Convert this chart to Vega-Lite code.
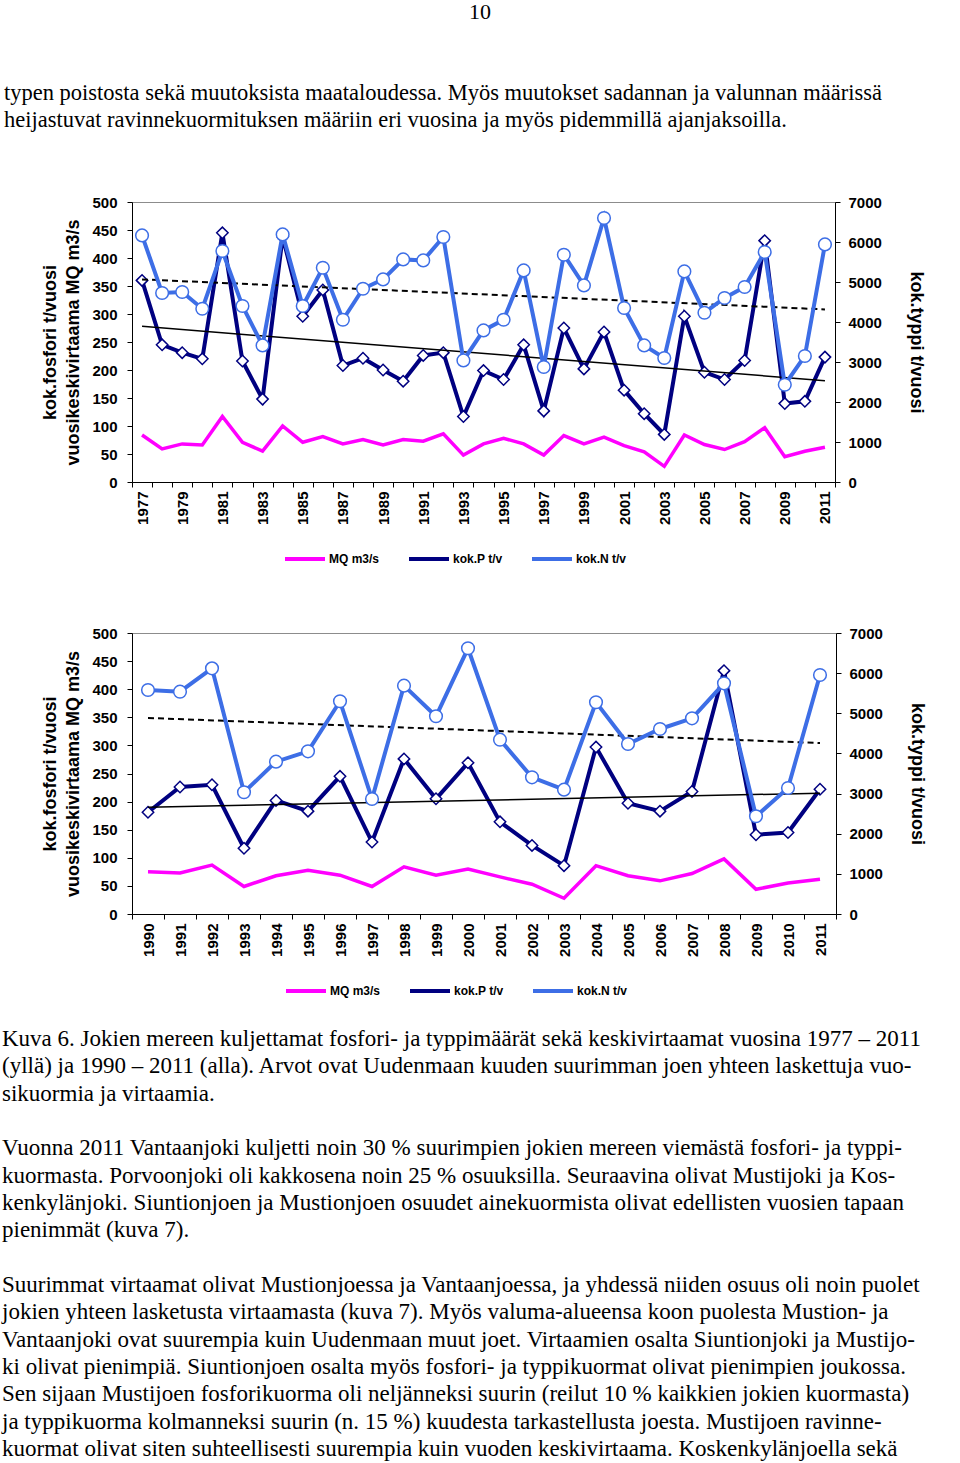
{
  "$schema": "https://vega.github.io/schema/vega-lite/v6.json",
  "padding": {"left": 2, "top": 1, "right": 0, "bottom": 0},
  "background": "white",
  "datasets": {
    "a": [
      {"year": 1977, "MQ": 84, "P": 360, "N": 6165},
      {"year": 1978, "MQ": 59, "P": 245, "N": 4725},
      {"year": 1979, "MQ": 68, "P": 231, "N": 4750},
      {"year": 1980, "MQ": 66, "P": 220, "N": 4332},
      {"year": 1981, "MQ": 117, "P": 445, "N": 5775},
      {"year": 1982, "MQ": 71, "P": 216, "N": 4400},
      {"year": 1983, "MQ": 55, "P": 148, "N": 3415},
      {"year": 1984, "MQ": 100, "P": 438, "N": 6190},
      {"year": 1985, "MQ": 71, "P": 296, "N": 4400},
      {"year": 1986, "MQ": 81, "P": 343, "N": 5357},
      {"year": 1987, "MQ": 68, "P": 208, "N": 4057},
      {"year": 1988, "MQ": 76, "P": 221, "N": 4832},
      {"year": 1989, "MQ": 66, "P": 200, "N": 5065},
      {"year": 1990, "MQ": 76, "P": 180, "N": 5565},
      {"year": 1991, "MQ": 73, "P": 226, "N": 5540},
      {"year": 1992, "MQ": 86, "P": 231, "N": 6125},
      {"year": 1993, "MQ": 48, "P": 117, "N": 3040},
      {"year": 1994, "MQ": 68, "P": 199, "N": 3790},
      {"year": 1995, "MQ": 78, "P": 183, "N": 4057},
      {"year": 1996, "MQ": 68, "P": 245, "N": 5290},
      {"year": 1997, "MQ": 48, "P": 127, "N": 2875},
      {"year": 1998, "MQ": 83, "P": 275, "N": 5682},
      {"year": 1999, "MQ": 68, "P": 202, "N": 4915},
      {"year": 2000, "MQ": 80, "P": 268, "N": 6600},
      {"year": 2001, "MQ": 65, "P": 164, "N": 4350},
      {"year": 2002, "MQ": 54, "P": 122, "N": 3415},
      {"year": 2003, "MQ": 28, "P": 85, "N": 3100},
      {"year": 2004, "MQ": 84, "P": 296, "N": 5265},
      {"year": 2005, "MQ": 67, "P": 196, "N": 4232},
      {"year": 2006, "MQ": 58, "P": 183, "N": 4600},
      {"year": 2007, "MQ": 72, "P": 217, "N": 4875},
      {"year": 2008, "MQ": 97, "P": 431, "N": 5750},
      {"year": 2009, "MQ": 45, "P": 140, "N": 2432},
      {"year": 2010, "MQ": 55, "P": 144, "N": 3150},
      {"year": 2011, "MQ": 62, "P": 223, "N": 5940}
    ],
    "b": [
      {"year": 1990, "MQ": 75, "P": 181, "N": 5580},
      {"year": 1991, "MQ": 73, "P": 226, "N": 5538},
      {"year": 1992, "MQ": 87, "P": 230, "N": 6120},
      {"year": 1993, "MQ": 49, "P": 117, "N": 3032},
      {"year": 1994, "MQ": 68, "P": 202, "N": 3795},
      {"year": 1995, "MQ": 78, "P": 183, "N": 4053},
      {"year": 1996, "MQ": 69, "P": 245, "N": 5299},
      {"year": 1997, "MQ": 49, "P": 128, "N": 2865},
      {"year": 1998, "MQ": 84, "P": 276, "N": 5688},
      {"year": 1999, "MQ": 69, "P": 205, "N": 4925},
      {"year": 2000, "MQ": 80, "P": 269, "N": 6619},
      {"year": 2001, "MQ": 66, "P": 164, "N": 4342},
      {"year": 2002, "MQ": 53, "P": 122, "N": 3405},
      {"year": 2003, "MQ": 28, "P": 86, "N": 3097},
      {"year": 2004, "MQ": 86, "P": 297, "N": 5274},
      {"year": 2005, "MQ": 68, "P": 197, "N": 4235},
      {"year": 2006, "MQ": 59, "P": 183, "N": 4609},
      {"year": 2007, "MQ": 72, "P": 218, "N": 4875},
      {"year": 2008, "MQ": 98, "P": 433, "N": 5747},
      {"year": 2009, "MQ": 44, "P": 141, "N": 2434},
      {"year": 2010, "MQ": 55, "P": 145, "N": 3139},
      {"year": 2011, "MQ": 62, "P": 222, "N": 5954}
    ],
    "trendPa": [{"year": 1977, "v": 278}, {"year": 2011, "v": 181}],
    "trendNa": [{"year": 1977, "v": 5065}, {"year": 2011, "v": 4315}],
    "trendPb": [{"year": 1990, "v": 190}, {"year": 2011, "v": 215}],
    "trendNb": [{"year": 1990, "v": 4883}, {"year": 2011, "v": 4260}],
    "body": [
      {"line": 0, "text": "Kuva 6. Jokien mereen kuljettamat fosfori- ja typpimäärät sekä keskivirtaamat vuosina 1977 – 2011"},
      {"line": 1, "text": "(yllä) ja 1990 – 2011 (alla). Arvot ovat Uudenmaan kuuden suurimman joen yhteen laskettuja vuo-"},
      {"line": 2, "text": "sikuormia ja virtaamia."},
      {"line": 4, "text": "Vuonna 2011 Vantaanjoki kuljetti noin 30 % suurimpien jokien mereen viemästä fosfori- ja typpi-"},
      {"line": 5, "text": "kuormasta. Porvoonjoki oli kakkosena noin 25 % osuuksilla. Seuraavina olivat Mustijoki ja Kos-"},
      {"line": 6, "text": "kenkylänjoki. Siuntionjoen ja Mustionjoen osuudet ainekuormista olivat edellisten vuosien tapaan"},
      {"line": 7, "text": "pienimmät (kuva 7)."},
      {"line": 9, "text": "Suurimmat virtaamat olivat Mustionjoessa ja Vantaanjoessa, ja yhdessä niiden osuus oli noin puolet"},
      {"line": 10, "text": "jokien yhteen lasketusta virtaamasta (kuva 7). Myös valuma-alueensa koon puolesta Mustion- ja"},
      {"line": 11, "text": "Vantaanjoki ovat suurempia kuin Uudenmaan muut joet. Virtaamien osalta Siuntionjoki ja Mustijo-"},
      {"line": 12, "text": "ki olivat pienimpiä. Siuntionjoen osalta myös fosfori- ja typpikuormat olivat pienimpien joukossa."},
      {"line": 13, "text": "Sen sijaan Mustijoen fosforikuorma oli neljänneksi suurin (reilut 10 % kaikkien jokien kuormasta)"},
      {"line": 14, "text": "ja typpikuorma kolmanneksi suurin (n. 15 %) kuudesta tarkastellusta joesta. Mustijoen ravinne-"},
      {"line": 15, "text": "kuormat olivat siten suhteellisesti suurempia kuin vuoden keskivirtaama. Koskenkylänjoella sekä"}
    ]
  },
  "title": {"text": "10", "anchor": "middle", "font": "Liberation Serif", "fontSize": 22, "fontWeight": "normal", "color": "black", "offset": 57},
  "spacing": 57,
  "resolve": {"scale": {"color": "independent"}, "legend": {"color": "independent"}},
  "vconcat": [
    {
      "width": 703,
      "height": 280,
      "title": {
        "text": ["typen poistosta sekä muutoksista maataloudessa. Myös muutokset sadannan ja valunnan määrissä", "heijastuvat ravinnekuormituksen määriin eri vuosina ja myös pidemmillä ajanjaksoilla."],
        "anchor": "start", "frame": "bounds", "font": "Liberation Serif", "fontSize": 22.5, "fontWeight": "normal", "lineHeight": 27, "color": "black", "offset": 64, "dx": -38
      },
      "layer": [
        {
          "layer": [
            {
              "data": {"name": "a"},
              "mark": {"type": "line", "strokeWidth": 3.5},
              "encoding": {
                "x": {"field": "year", "type": "ordinal", "scale": {"type": "band", "paddingInner": 0, "paddingOuter": 0}, "bandPosition": 0.5, "axis": {"title": null, "labelAngle": 270, "tickBand": "extent", "labelExpr": "datum.value % 2 == 1 ? datum.label : ''", "labelPadding": 4}},
                "y": {"field": "MQ", "type": "quantitative", "scale": {"domain": [0, 500], "nice": false}, "axis": {"title": ["kok.fosfori t/vuosi", "vuosikeskivirtaama MQ m3/s"], "values": [0, 50, 100, 150, 200, 250, 300, 350, 400, 450, 500], "labelPadding": 10, "titlePadding": 9, "titleLineHeight": 23}},
                "color": {"datum": "MQ m3/s", "type": "nominal", "scale": {"domain": ["MQ m3/s", "kok.P t/v", "kok.N t/v"], "range": ["#ff00ff", "#000080", "#3d6ee6"]}, "legend": {"orient": "none", "legendX": 151, "legendY": 335, "direction": "horizontal", "title": null, "symbolType": "stroke", "symbolStrokeWidth": 4, "symbolSize": 1600, "labelFont": "Liberation Sans", "labelFontWeight": "bold", "labelFontSize": 12, "labelColor": "black", "columnPadding": 21, "labelOffset": 2}}
              }
            },
            {
              "data": {"name": "a"},
              "mark": {"type": "line", "strokeWidth": 4},
              "encoding": {
                "x": {"field": "year", "type": "ordinal", "scale": {"type": "band", "paddingInner": 0, "paddingOuter": 0}, "bandPosition": 0.5, "axis": {"title": null, "labelAngle": 270, "tickBand": "extent", "labelExpr": "datum.value % 2 == 1 ? datum.label : ''", "labelPadding": 4}},
                "y": {"field": "P", "type": "quantitative", "axis": {"title": ["kok.fosfori t/vuosi", "vuosikeskivirtaama MQ m3/s"], "values": [0, 50, 100, 150, 200, 250, 300, 350, 400, 450, 500], "labelPadding": 10, "titlePadding": 9, "titleLineHeight": 23}},
                "color": {"datum": "kok.P t/v", "type": "nominal"}
              }
            },
            {
              "data": {"name": "a"},
              "mark": {"type": "point", "shape": "diamond", "size": 130, "filled": true, "fill": "white", "stroke": "#000080", "strokeWidth": 1.5, "opacity": 1},
              "encoding": {
                "x": {"field": "year", "type": "ordinal", "scale": {"type": "band", "paddingInner": 0, "paddingOuter": 0}, "bandPosition": 0.5, "axis": {"title": null, "labelAngle": 270, "tickBand": "extent", "labelExpr": "datum.value % 2 == 1 ? datum.label : ''", "labelPadding": 4}},
                "y": {"field": "P", "type": "quantitative", "axis": {"title": ["kok.fosfori t/vuosi", "vuosikeskivirtaama MQ m3/s"], "values": [0, 50, 100, 150, 200, 250, 300, 350, 400, 450, 500], "labelPadding": 10, "titlePadding": 9, "titleLineHeight": 23}}
              }
            },
            {
              "data": {"name": "trendPa"},
              "mark": {"type": "line", "color": "black", "strokeWidth": 1.5},
              "encoding": {
                "x": {"field": "year", "type": "ordinal", "scale": {"type": "band", "paddingInner": 0, "paddingOuter": 0}, "bandPosition": 0.5, "axis": {"title": null, "labelAngle": 270, "tickBand": "extent", "labelExpr": "datum.value % 2 == 1 ? datum.label : ''", "labelPadding": 4}},
                "y": {"field": "v", "type": "quantitative", "axis": {"title": ["kok.fosfori t/vuosi", "vuosikeskivirtaama MQ m3/s"], "values": [0, 50, 100, 150, 200, 250, 300, 350, 400, 450, 500], "labelPadding": 10, "titlePadding": 9, "titleLineHeight": 23}}
              }
            }
          ]
        },
        {
          "layer": [
            {
              "data": {"name": "trendNa"},
              "mark": {"type": "line", "color": "black", "strokeWidth": 2, "strokeDash": [6, 4]},
              "encoding": {
                "x": {"field": "year", "type": "ordinal", "scale": {"type": "band", "paddingInner": 0, "paddingOuter": 0}, "bandPosition": 0.5},
                "y": {"field": "v", "type": "quantitative", "scale": {"domain": [0, 7000], "nice": false}, "axis": {"orient": "right", "title": "kok.typpi t/vuosi", "format": "d", "values": [0, 1000, 2000, 3000, 4000, 5000, 6000, 7000], "labelPadding": 8, "titlePadding": 25}}
              }
            },
            {
              "data": {"name": "a"},
              "mark": {"type": "line", "strokeWidth": 4},
              "encoding": {
                "x": {"field": "year", "type": "ordinal", "scale": {"type": "band", "paddingInner": 0, "paddingOuter": 0}, "bandPosition": 0.5},
                "y": {"field": "N", "type": "quantitative", "axis": {"orient": "right", "title": "kok.typpi t/vuosi", "format": "d", "values": [0, 1000, 2000, 3000, 4000, 5000, 6000, 7000], "labelPadding": 8, "titlePadding": 25}},
                "color": {"datum": "kok.N t/v", "type": "nominal"}
              }
            },
            {
              "data": {"name": "a"},
              "mark": {"type": "point", "shape": "circle", "size": 160, "filled": true, "fill": "white", "stroke": "#3d6ee6", "strokeWidth": 1.5, "opacity": 1},
              "encoding": {
                "x": {"field": "year", "type": "ordinal", "scale": {"type": "band", "paddingInner": 0, "paddingOuter": 0}, "bandPosition": 0.5},
                "y": {"field": "N", "type": "quantitative", "axis": {"orient": "right", "title": "kok.typpi t/vuosi", "format": "d", "values": [0, 1000, 2000, 3000, 4000, 5000, 6000, 7000], "labelPadding": 8, "titlePadding": 25}}
              }
            }
          ]
        }
      ],
      "resolve": {"scale": {"y": "independent"}}
    },
    {
      "spacing": 28,
      "resolve": {"scale": {"color": "independent"}, "legend": {"color": "independent"}},
      "vconcat": [
        {
          "width": 704,
          "height": 281,
          "layer": [
            {
              "layer": [
                {
                  "data": {"name": "b"},
                  "mark": {"type": "line", "strokeWidth": 3.5},
                  "encoding": {
                    "x": {"field": "year", "type": "ordinal", "scale": {"type": "band", "paddingInner": 0, "paddingOuter": 0}, "bandPosition": 0.5, "axis": {"title": null, "labelAngle": 270, "tickBand": "extent", "labelPadding": 4}},
                    "y": {"field": "MQ", "type": "quantitative", "scale": {"domain": [0, 500], "nice": false}, "axis": {"title": ["kok.fosfori t/vuosi", "vuosikeskivirtaama MQ m3/s"], "values": [0, 50, 100, 150, 200, 250, 300, 350, 400, 450, 500], "labelPadding": 10, "titlePadding": 9, "titleLineHeight": 23}},
                    "color": {"datum": "MQ m3/s", "type": "nominal", "scale": {"domain": ["MQ m3/s", "kok.P t/v", "kok.N t/v"], "range": ["#ff00ff", "#000080", "#3d6ee6"]}, "legend": {"orient": "none", "legendX": 152, "legendY": 336, "direction": "horizontal", "title": null, "symbolType": "stroke", "symbolStrokeWidth": 4, "symbolSize": 1600, "labelFont": "Liberation Sans", "labelFontWeight": "bold", "labelFontSize": 12, "labelColor": "black", "columnPadding": 21, "labelOffset": 2}}
                  }
                },
                {
                  "data": {"name": "b"},
                  "mark": {"type": "line", "strokeWidth": 4},
                  "encoding": {
                    "x": {"field": "year", "type": "ordinal", "scale": {"type": "band", "paddingInner": 0, "paddingOuter": 0}, "bandPosition": 0.5, "axis": {"title": null, "labelAngle": 270, "tickBand": "extent", "labelPadding": 4}},
                    "y": {"field": "P", "type": "quantitative", "axis": {"title": ["kok.fosfori t/vuosi", "vuosikeskivirtaama MQ m3/s"], "values": [0, 50, 100, 150, 200, 250, 300, 350, 400, 450, 500], "labelPadding": 10, "titlePadding": 9, "titleLineHeight": 23}},
                    "color": {"datum": "kok.P t/v", "type": "nominal"}
                  }
                },
                {
                  "data": {"name": "b"},
                  "mark": {"type": "point", "shape": "diamond", "size": 130, "filled": true, "fill": "white", "stroke": "#000080", "strokeWidth": 1.5, "opacity": 1},
                  "encoding": {
                    "x": {"field": "year", "type": "ordinal", "scale": {"type": "band", "paddingInner": 0, "paddingOuter": 0}, "bandPosition": 0.5, "axis": {"title": null, "labelAngle": 270, "tickBand": "extent", "labelPadding": 4}},
                    "y": {"field": "P", "type": "quantitative", "axis": {"title": ["kok.fosfori t/vuosi", "vuosikeskivirtaama MQ m3/s"], "values": [0, 50, 100, 150, 200, 250, 300, 350, 400, 450, 500], "labelPadding": 10, "titlePadding": 9, "titleLineHeight": 23}}
                  }
                },
                {
                  "data": {"name": "trendPb"},
                  "mark": {"type": "line", "color": "black", "strokeWidth": 1.5},
                  "encoding": {
                    "x": {"field": "year", "type": "ordinal", "scale": {"type": "band", "paddingInner": 0, "paddingOuter": 0}, "bandPosition": 0.5, "axis": {"title": null, "labelAngle": 270, "tickBand": "extent", "labelPadding": 4}},
                    "y": {"field": "v", "type": "quantitative", "axis": {"title": ["kok.fosfori t/vuosi", "vuosikeskivirtaama MQ m3/s"], "values": [0, 50, 100, 150, 200, 250, 300, 350, 400, 450, 500], "labelPadding": 10, "titlePadding": 9, "titleLineHeight": 23}}
                  }
                }
              ]
            },
            {
              "layer": [
                {
                  "data": {"name": "trendNb"},
                  "mark": {"type": "line", "color": "black", "strokeWidth": 2, "strokeDash": [6, 4]},
                  "encoding": {
                    "x": {"field": "year", "type": "ordinal", "scale": {"type": "band", "paddingInner": 0, "paddingOuter": 0}, "bandPosition": 0.5},
                    "y": {"field": "v", "type": "quantitative", "scale": {"domain": [0, 7000], "nice": false}, "axis": {"orient": "right", "title": "kok.typpi t/vuosi", "format": "d", "values": [0, 1000, 2000, 3000, 4000, 5000, 6000, 7000], "labelPadding": 8, "titlePadding": 25}}
                  }
                },
                {
                  "data": {"name": "b"},
                  "mark": {"type": "line", "strokeWidth": 4},
                  "encoding": {
                    "x": {"field": "year", "type": "ordinal", "scale": {"type": "band", "paddingInner": 0, "paddingOuter": 0}, "bandPosition": 0.5},
                    "y": {"field": "N", "type": "quantitative", "axis": {"orient": "right", "title": "kok.typpi t/vuosi", "format": "d", "values": [0, 1000, 2000, 3000, 4000, 5000, 6000, 7000], "labelPadding": 8, "titlePadding": 25}},
                    "color": {"datum": "kok.N t/v", "type": "nominal"}
                  }
                },
                {
                  "data": {"name": "b"},
                  "mark": {"type": "point", "shape": "circle", "size": 160, "filled": true, "fill": "white", "stroke": "#3d6ee6", "strokeWidth": 1.5, "opacity": 1},
                  "encoding": {
                    "x": {"field": "year", "type": "ordinal", "scale": {"type": "band", "paddingInner": 0, "paddingOuter": 0}, "bandPosition": 0.5},
                    "y": {"field": "N", "type": "quantitative", "axis": {"orient": "right", "title": "kok.typpi t/vuosi", "format": "d", "values": [0, 1000, 2000, 3000, 4000, 5000, 6000, 7000], "labelPadding": 8, "titlePadding": 25}}
                  }
                }
              ]
            }
          ],
          "resolve": {"scale": {"y": "independent"}}
        },
        {
          "width": 826,
          "height": 410,
          "view": {"stroke": null},
          "data": {"name": "body"},
          "mark": {"type": "text", "align": "left", "baseline": "middle", "font": "Liberation Serif", "fontSize": 23, "color": "black", "dx": -130},
          "encoding": {
            "x": {"datum": 0, "type": "quantitative", "scale": {"domain": [0, 1]}, "axis": null},
            "y": {"field": "line", "type": "quantitative", "scale": {"domain": [0, 15], "reverse": true, "nice": false, "zero": false}, "axis": null},
            "text": {"field": "text"}
          }
        }
      ]
    }
  ],
  "config": {
    "view": {"stroke": "#8c8c8c"},
    "axis": {"labelFont": "Liberation Sans", "labelFontWeight": "bold", "labelFontSize": 15, "labelColor": "black", "titleFont": "Liberation Sans", "titleFontWeight": "bold", "titleFontSize": 18, "titleColor": "black", "domainColor": "black", "tickColor": "black", "grid": false, "tickSize": 5}
  }
}
